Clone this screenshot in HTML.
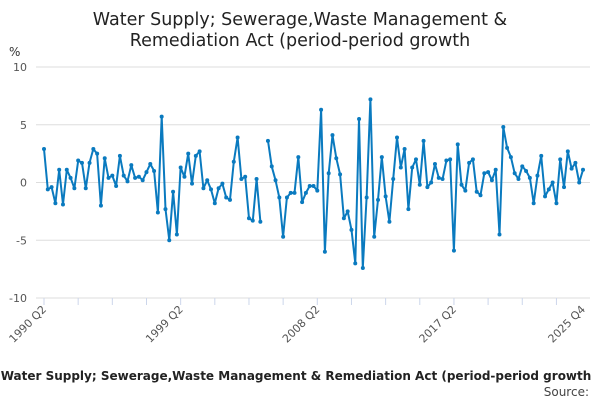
<!DOCTYPE html>
<html><head><meta charset="utf-8"><style>
body{margin:0;width:600px;height:400px;overflow:hidden;background:#fff;font-family:"DejaVu Sans",sans-serif;}
</style></head><body>
<svg width="600" height="400" xmlns="http://www.w3.org/2000/svg" font-family="DejaVu Sans, sans-serif">
<text x="300" y="25" text-anchor="middle" font-size="17.5" fill="#222">Water Supply; Sewerage,Waste Management &amp;</text>
<text x="300" y="46" text-anchor="middle" font-size="17.5" fill="#222">Remediation Act (period-period growth</text>
<text x="9" y="56" font-size="12" fill="#333">%</text>
<g id="grid"></g><g id="xaxis"></g><g id="series"></g>
<text x="296" y="380" text-anchor="middle" font-size="12" font-weight="bold" fill="#222">Water Supply; Sewerage,Waste Management &amp; Remediation Act (period-period growth</text>
<text x="589" y="396" text-anchor="end" font-size="12" fill="#444">Source:</text>
</svg>
<script>
const values=[2.9,-0.6,-0.4,-1.8,1.1,-1.9,1.1,0.4,-0.5,1.9,1.7,-0.5,1.7,2.9,2.5,-2.0,2.1,0.4,0.6,-0.3,2.3,0.6,0.1,1.5,0.4,0.5,0.2,0.9,1.6,1.0,-2.6,5.7,-2.3,-5.0,-0.8,-4.5,1.3,0.5,2.5,-0.1,2.3,2.7,-0.5,0.2,-0.6,-1.8,-0.5,-0.1,-1.3,-1.5,1.8,3.9,0.3,0.5,-3.1,-3.3,0.3,-3.4,null,3.6,1.4,0.2,-1.3,-4.7,-1.3,-0.9,-0.9,2.2,-1.7,-0.9,-0.3,-0.3,-0.7,6.3,-6.0,0.8,4.1,2.1,0.7,-3.1,-2.5,-4.1,-7.0,5.5,-7.4,-1.3,7.2,-4.7,-1.5,2.2,-1.2,-3.4,0.3,3.9,1.3,2.9,-2.3,1.3,2.0,-0.2,3.6,-0.4,0.0,1.6,0.4,0.3,1.9,2.0,-5.9,3.3,-0.2,-0.7,1.7,2.0,-0.8,-1.1,0.8,0.9,0.2,1.1,-4.5,4.8,3.0,2.2,0.8,0.3,1.4,1.0,0.4,-1.8,0.6,2.3,-1.2,-0.6,0.0,-1.8,2.0,-0.4,2.7,1.2,1.7,0.0,1.1];
const yTicks=[10,5,0,-5,-10];
const xTickLabels=["1990 Q2","1999 Q2","2008 Q2","2017 Q2","2025 Q4"];
const xTickIdx=[0,36,72,108,values.length-1];
const NS="http://www.w3.org/2000/svg";
const X0=44,X1=583,Y0=182.5,K=11.55;
const x=i=>X0+(X1-X0)*i/(values.length-1);
const y=v=>Y0-v*K;
function mk(t,a,p){const e=document.createElementNS(NS,t);for(const k in a)e.setAttribute(k,a[k]);p.appendChild(e);return e;}
const grid=document.getElementById('grid');
yTicks.forEach(v=>{
 const l=mk('line',{x1:36,x2:590,y1:y(v),y2:y(v),stroke:'#ddd','stroke-width':1},grid);
 
 
 const t=mk('text',{x:27,y:y(v)+4,'text-anchor':'end','font-size':11,fill:'#555'},grid);
 t.textContent=v;
 
 
});
const xa=document.getElementById('xaxis');
for(let i=0;i<values.length;i+=9){
 const tk=mk('line',{x1:x(i),x2:x(i),y1:298,y2:305,stroke:'#ccd6eb'},xa);
 
 
}
xTickIdx.forEach((i,n)=>{
 const t=mk('text',{x:x(i)+3,y:310,'text-anchor':'end','font-size':11,fill:'#555',transform:`rotate(-45 ${x(i)+3} 310)`},xa);
 t.textContent=xTickLabels[n];
 
 
});
const s=document.getElementById('series');
let d='',pen=false;
values.forEach((v,i)=>{if(v===null){pen=false;return;}d+=(pen?'L':'M')+x(i).toFixed(1)+' '+y(v).toFixed(1);pen=true;});
const p=mk('path',{d:d,fill:'none',stroke:'#0a7abf','stroke-width':2,'stroke-linejoin':'round'},s);


values.forEach((v,i)=>{if(v===null)return;
 const c=mk('circle',{cx:x(i),cy:y(v),r:2,fill:'#0a7abf'},s);
 
 
});
</script>
</body></html>
